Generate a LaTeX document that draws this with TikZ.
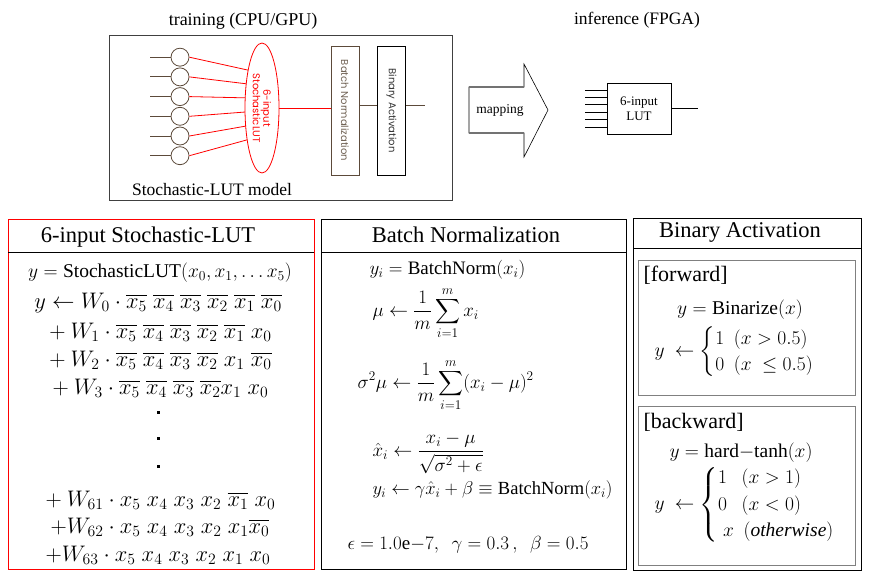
\RequirePackage{fix-cm}
\documentclass[tikz,border=0pt]{standalone}
\usepackage{amsmath}
\usepackage{fontspec}
\setmainfont{Liberation Serif}
\newfontfamily\gothic{Poppins}
\usetikzlibrary{shapes.geometric}
\definecolor{brownc}{HTML}{5C4A3A}
\definecolor{lutred}{HTML}{FF0000}
\definecolor{bntext}{HTML}{6E6052}
\newcommand{\negx}[1]{\overline{x_{#1}}}

\begin{document}
\begin{tikzpicture}[x=1pt, y=-1pt,
    neuron/.style={circle, draw=brownc, line width=0.8pt, minimum size=18pt, inner sep=0pt},
    wire/.style={draw=brownc, line width=0.8pt},
    redwire/.style={draw=lutred, line width=0.8pt},
    layerbox/.style={draw, line width=0.8pt, minimum width=129pt, minimum height=28pt, inner sep=0pt, rotate=-90, font=\gothic\fontsize{10}{11}\selectfont},
    caption/.style={font=\fontsize{18}{21}\selectfont},
    paneltitle/.style={font=\fontsize{22.5}{26}\selectfont},
    eqbig/.style={font=\fontsize{22.5}{26}\selectfont},
    eq/.style={font=\fontsize{19}{22}\selectfont},
    dot/.style={fill, minimum size=3pt, inner sep=0pt}]
    \useasboundingbox (0,0) rectangle (870,577);

    % training

    \node[caption] (train) at (243,21) {training (CPU/GPU)};
    \draw[black!75, line width=0.8pt] (109,35) rectangle (452,200);
    \foreach \i in {1,...,6} {
        \node[neuron] (n\i) at (180, 37.5+19.7*\i) {};
        \coordinate (s\i) at (252, 57.5+13.5*\i);
        \draw[wire] (n\i.west) -- ++(-21,0);
        \draw[redwire] (n\i.east) -- (s\i);
    }
    \node[ellipse, draw=lutred, fill=white, line width=0.8pt, minimum width=130pt, minimum height=34pt, inner sep=0pt, rotate=-90, align=center, text=lutred, font=\gothic\fontsize{10}{10.5}\selectfont] (slut) at (262,108) {6-input\\StochasticLUT};
    \node[layerbox, draw=brownc, text=bntext] (bn) at (345,110.5) {Batch Normalization};
    \node[layerbox, text=black!80] (ba) at (391.5,110.5) {Binary Activation};
    \node[caption, font=\fontsize{17.5}{21}\selectfont] (model) at (212,190) {Stochastic-LUT model};

    \draw[redwire] (slut.north) -- (slut.north -| bn.south);
    \draw[wire] (bn.north |- 0,105) -- (ba.south |- 0,105);
    \draw[wire] (ba.north |- 0,105) -- ++(19,0);

    % mapping

    \draw[line width=0.6pt] (469,87) -- (524,87) -- (524,64) -- (548,110) -- (524,157) -- (524,133) -- (469,133) -- cycle;
    \draw[black!55, line width=1.2pt] (469,87) -- (524,87) (469,133) -- (524,133);
    \node[font=\fontsize{13.5}{16}\selectfont] (map) at (500,110) {mapping};

    % inference

    \node[caption, font=\fontsize{17.5}{21}\selectfont] (infer) at (637,20) {inference (FPGA)};
    \node[draw, line width=0.8pt, minimum width=64pt, minimum height=51pt, align=center, font=\fontsize{13}{15}\selectfont] (lut) at (639,108.5) {6-input\\LUT};
    \foreach \y in {90,97.4,104.8,112.2,119.6,127} {
        \draw[line width=0.7pt] (lut.west |- 0,\y) -- ++(-22,0);
    }
    \draw[line width=0.7pt] (lut.east) -- ++(27,0);

    % panels

    \draw[lutred, line width=0.8pt] (8,219) rectangle (314,569);
    \draw[line width=0.8pt] (8,252) -- (314,252);
    \node[paneltitle] (t1) at (148,237) {6-input Stochastic-LUT};

    \draw[line width=0.8pt] (321,219) rectangle (626,569);
    \draw[line width=0.8pt] (321,252) -- (626,252);
    \node[paneltitle] (t2) at (466,235) {Batch Normalization};

    \draw[line width=0.8pt] (633,218) rectangle (861,570);
    \draw[line width=0.8pt] (633,248) -- (861,248);
    \node[paneltitle] (t3) at (740,232) {Binary Activation};
    \draw[black!50, line width=0.8pt] (638,260) rectangle (855,395);
    \draw[black!50, line width=0.8pt] (638,406) rectangle (855,565);

    % 6-input Stochastic-LUT

    \node[eq, font=\fontsize{19.5}{22}\selectfont] (e0) at (160,273) {$y = \text{StochasticLUT}(x_0, x_1, \dots x_5)$};
    \node[eqbig] (e1) at (158,303) {$y \leftarrow W_0 \cdot \negx5\;\negx4\;\negx3\;\negx2\;\negx1\;\negx0$};
    \node[eqbig] (e2) at (158,332) {${} + W_1 \cdot \negx5\;\negx4\;\negx3\;\negx2\;\negx1\;x_0$};
    \node[eqbig] (e3) at (158,360) {${} + W_2 \cdot \negx5\;\negx4\;\negx3\;\negx2\;x_1\;\negx0$};
    \node[eqbig] (e4) at (158,388) {${} + W_3 \cdot \negx5\;\negx4\;\negx3\;\negx2 x_1\;x_0$};
    \foreach \y [count=\k] in {412,438,466} {
        \node[dot] (dot\k) at (158,\y) {};
    }
    \node[eqbig] (e5) at (158,500) {${} + W_{61} \cdot x_5\;x_4\;x_3\;x_2\;\negx1\;x_0$};
    \node[eqbig] (e6) at (160,527) {$+W_{62} \cdot x_5\;x_4\;x_3\;x_2\;x_1\negx0$};
    \node[eqbig] (e7) at (158,555) {$+W_{63} \cdot x_5\;x_4\;x_3\;x_2\;x_1\;x_0$};

    % Batch Normalization

    \node[eq, anchor=west] (b0) at (366,270) {$y_i = \text{BatchNorm}(x_i)$};
    \node[eq, anchor=west] (b1) at (369,313) {$\displaystyle \mu \leftarrow \frac{1}{m}\sum_{i=1}^{m} x_i$};
    \node[eq, anchor=west] (b2) at (354,385) {$\displaystyle \sigma^2\mu \leftarrow \frac{1}{m}\sum_{i=1}^{m}(x_i - \mu)^2$};
    \node[eq, anchor=west] (b3) at (369,453) {$\displaystyle \hat{x}_i \leftarrow \frac{x_i-\mu}{\sqrt{\sigma^2+\epsilon}}$};
    \node[eq, anchor=west, font=\fontsize{18.5}{22}\selectfont] (b4) at (369,490) {$y_i \leftarrow \gamma\hat{x}_i + \beta \equiv \text{BatchNorm}(x_i)$};
    \node[eq, anchor=west] (b5) at (344,545) {$\epsilon = 1.0\text{e}{-7},\ \ \gamma = 0.3\,,\ \ \beta = 0.5$};

    % Binary Activation

    \node[paneltitle, font=\fontsize{22}{26}\selectfont, anchor=west] (fw) at (640,275) {[forward]};
    \node[eq, font=\fontsize{19.5}{22}\selectfont] (f1) at (740,310) {$y = \text{Binarize}(x)$};
    \node[eq, font=\fontsize{19.5}{22}\selectfont, anchor=west] (f2) at (651,352) {$y\ \leftarrow \begin{cases} 1\ \ (x > 0.5) \\ 0\ \ (x\ \le 0.5) \end{cases}$};
    \node[paneltitle, font=\fontsize{22}{26}\selectfont, anchor=west] (bw) at (640,422) {[backward]};
    \node[eq, font=\fontsize{19.5}{22}\selectfont] (g1) at (741,453) {$y = \text{hard}{-}\text{tanh}(x)$};
    \node[eq, font=\fontsize{19.5}{22}\selectfont, anchor=west] (g2) at (651,505) {$y\ \leftarrow \begin{cases} 1\ \ \ (x > 1) \\ 0\ \ \ (x < 0) \\ \ x\ \ (\mathit{otherwise}) \end{cases}$};

\end{tikzpicture}
\end{document}
